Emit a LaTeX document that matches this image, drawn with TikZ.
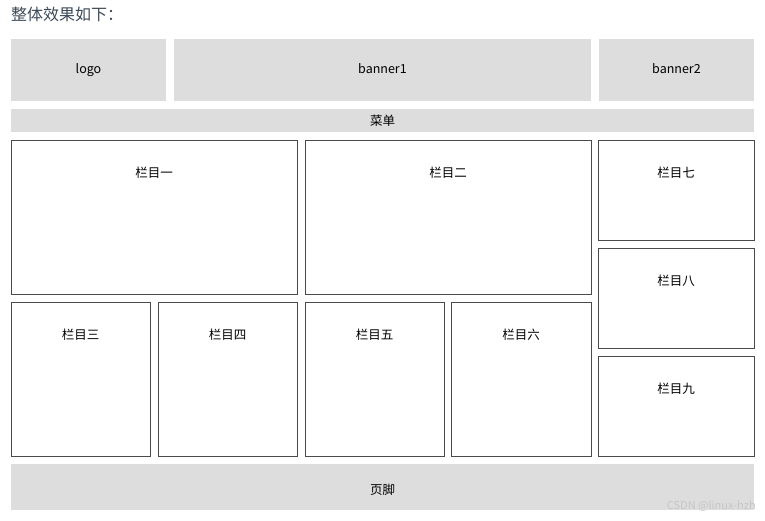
\documentclass[tikz,border=0pt]{standalone}
\usepackage{fontspec}
\setmainfont{Noto Sans CJK SC}
\usepackage{xcolor}
\definecolor{blockgray}{HTML}{DDDDDD}
\definecolor{edgegray}{HTML}{4A4A4A}
\definecolor{titleblue}{HTML}{3C4858}
\usepackage{tikz}

\begin{document}
\begin{tikzpicture}[
    x=1pt, y=-1pt,
    every node/.style={font=\fontsize{12.5}{14}\selectfont, inner sep=0pt},
    head/.style={fill=blockgray, minimum height=62pt, text height=9pt, text depth=3pt},
    bar/.style={fill=blockgray, minimum width=743pt},
    col/.style={draw=edgegray, line width=0.8pt, fill=white},
  ]
    \useasboundingbox (0,0) rectangle (765,520);

    % 标题
    \node[anchor=west, text=titleblue, font=\fontsize{16}{18}\selectfont] (title) at (11, 14) {整体效果如下：};

    % 顶行
    \node[head, minimum width=155pt] (logo)    at (88.5, 70)  {logo};
    \node[head, minimum width=417pt] (banner1) at (382.5, 70) {banner1};
    \node[head, minimum width=155pt] (banner2) at (676.5, 70) {banner2};

    % 菜单
    \node[bar, minimum height=23pt] (menu) at (382.5, 120.5) {菜单};

    % 栏目（大块）
    \node[col, minimum width=286pt, minimum height=154pt] (c1) at (154, 217) {};
    \node[col, minimum width=286pt, minimum height=154pt] (c2) at (448, 217) {};

    % 栏目（小块）
    \node[col, minimum width=139pt, minimum height=154pt] (c3) at (80.5, 379)  {};
    \node[col, minimum width=139pt, minimum height=154pt] (c4) at (227.5, 379) {};
    \node[col, minimum width=139pt, minimum height=154pt] (c5) at (374.5, 379) {};
    \node[col, minimum width=140pt, minimum height=154pt] (c6) at (521, 379)   {};

    % 右列
    \node[col, minimum width=156pt, minimum height=100pt] (c7) at (676, 190) {};
    \node[col, minimum width=156pt, minimum height=100pt] (c8) at (676, 298) {};
    \node[col, minimum width=156pt, minimum height=100pt] (c9) at (676, 406) {};

    % 栏目文字
    \node (t1) at (154, 172.5)   {栏目一};
    \node (t2) at (448, 172.5)   {栏目二};
    \node (t3) at (80.5, 334.5)  {栏目三};
    \node (t4) at (227.5, 334.5) {栏目四};
    \node (t5) at (374.5, 334.5) {栏目五};
    \node (t6) at (521, 334.5)   {栏目六};
    \node (t7) at (676, 172.5)   {栏目七};
    \node (t8) at (676, 280.5)   {栏目八};
    \node (t9) at (676, 388.5)   {栏目九};

    % 页脚
    \node[bar, minimum height=46pt] (footer) at (382.5, 487) {};
    \node (ft) at (382.5, 490) {页脚};
    \node[anchor=east, text=gray!45, font=\fontsize{11}{13}\selectfont] (mark) at (756, 506) {CSDN @linux-hzh};
  \end{tikzpicture}
\end{document}
